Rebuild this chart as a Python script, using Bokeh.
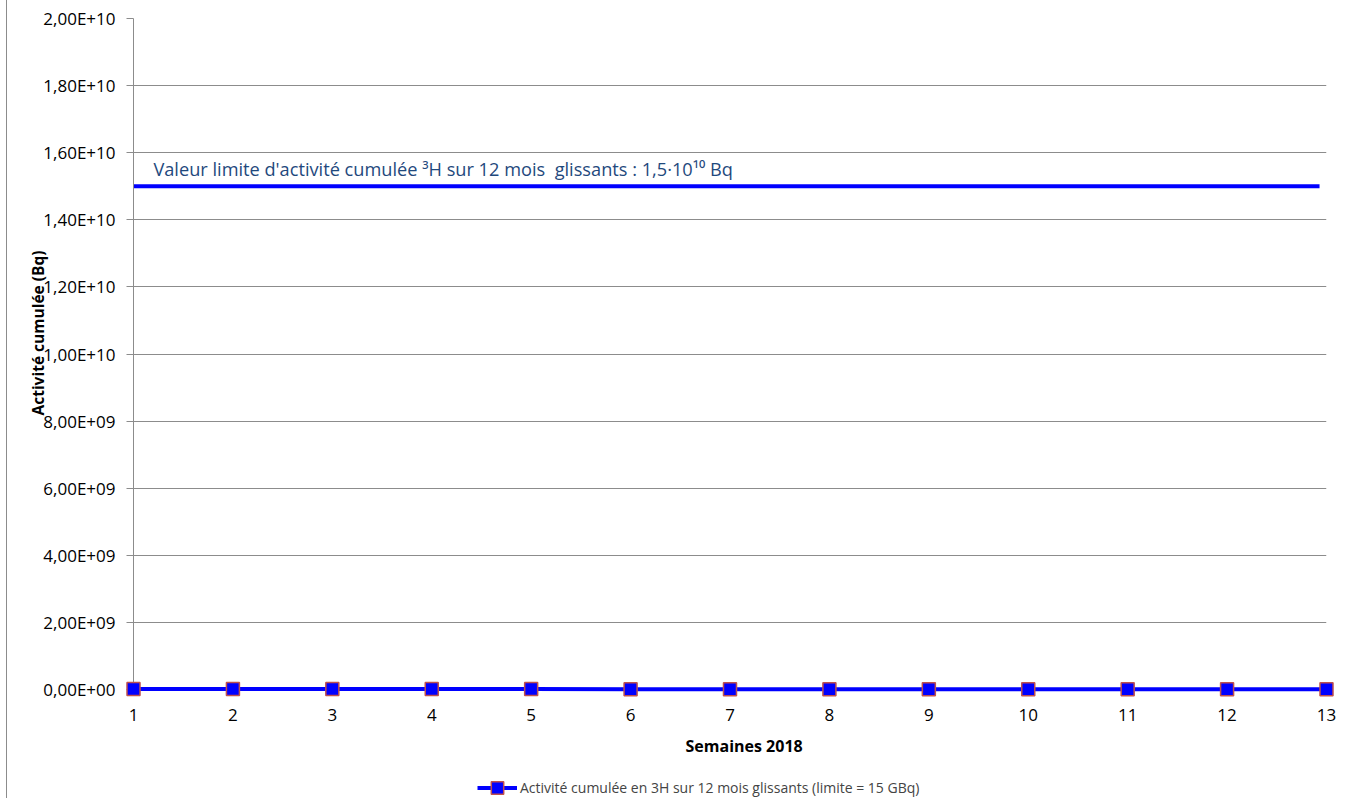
from bokeh.plotting import figure
from bokeh.models import (FixedTicker, CustomJSTickFormatter, Label, Legend, LegendItem,
                          ColumnDataSource, Range1d, Title)
from bokeh.layouts import column
from bokeh.embed import file_html
from bokeh.resources import INLINE

# ---- data ----
weeks = [1, 2, 3, 4, 5, 6, 7, 8, 9, 10, 11, 12, 13]
activity = [1.2e7, 1.2e7, 1.2e7, 1.2e7, 1.2e7, 1.1e7, 1.1e7, 1.1e7, 1.1e7, 1.0e7, 1.0e7, 0.9e7, 0.9e7]
limit_value = 1.5e10
y_ticks = [0, 2e9, 4e9, 6e9, 8e9, 1e10, 1.2e10, 1.4e10, 1.6e10, 1.8e10, 2e10]
series_name = "Activité cumulée en 3H sur 12 mois glissants (limite = 15 GBq)"
limit_text = "Valeur limite d'activité cumulée \u00b3H sur 12 mois\u00a0 glissants : 1,5\u00b710\u00b9\u2070 Bq"
x_title = "Semaines 2018"
y_title = "Activité cumulée (Bq)"

FONT = "Open Sans"
GRID = "#8c8c8c"
BLUE = "#0000ff"

W = 1344
p = figure(width=W, height=766, output_backend="svg", toolbar_location=None,
           x_range=Range1d(1, 13), y_range=Range1d(0, 2e10),
           min_border_left=126, min_border_right=25, min_border_top=18, min_border_bottom=77)
p.outline_line_color = None
p.background_fill_color = "white"
p.border_fill_color = "white"

# grid
p.xgrid.visible = False
p.ygrid.grid_line_color = GRID
p.ygrid.grid_line_width = 1

# y axis
p.yaxis.ticker = FixedTicker(ticks=y_ticks)
p.yaxis.formatter = CustomJSTickFormatter(code="""
    if (Math.abs(tick) < 1e-6) return "0,00E+00";
    let e = Math.floor(Math.log10(Math.abs(tick)) + 1e-9);
    let m = tick / Math.pow(10, e);
    let s = m.toFixed(2).replace(".", ",");
    let es = (e < 0 ? "-" : "+") + (Math.abs(e) < 10 ? "0" : "") + Math.abs(e);
    return s + "E" + es;
""")
p.yaxis.axis_line_color = GRID
p.yaxis.major_tick_line_color = GRID
p.yaxis.major_tick_out = 7
p.yaxis.major_tick_in = 0
p.yaxis.minor_tick_line_color = None
p.yaxis.major_label_text_font = FONT
p.yaxis.major_label_text_font_size = "17px"
p.yaxis.major_label_text_color = "#000000"
p.yaxis.major_label_standoff = 11

# x axis
p.xaxis.ticker = FixedTicker(ticks=weeks)
p.xaxis.axis_line_color = GRID
p.xaxis.major_tick_line_color = None
p.xaxis.minor_tick_line_color = None
p.xaxis.major_label_text_font = FONT
p.xaxis.major_label_text_font_size = "17px"
p.xaxis.major_label_text_color = "#000000"
p.xaxis.major_label_standoff = 13

# axis titles
p.add_layout(Title(text=x_title, align="left", offset=552, standoff=19,
                   text_font=FONT, text_font_size="16px", text_font_style="bold",
                   text_color="#000000"), "below")
p.add_layout(Title(text=y_title, align="left", offset=274, standoff=-17,
                   text_font=FONT, text_font_size="15.5px", text_font_style="bold",
                   text_color="#000000"), "left")

# limit line and text
p.segment(x0=[weeks[0]], y0=[limit_value], x1=[12.93], y1=[limit_value],
          line_color=BLUE, line_width=4)
p.add_layout(Label(x=1.2, y=limit_value, y_offset=5, text=limit_text,
                   text_font=FONT, text_font_size="18.2px", text_color="#1f497d",
                   text_baseline="bottom"))

# series
src = ColumnDataSource(dict(x=weeks, y=activity))
ln = p.line("x", "y", source=src, line_color=BLUE, line_width=4)
sc = p.scatter("x", "y", source=src, marker="square", size=13, fill_color=BLUE,
               line_color="#c0504d", line_width=1.5)
ln.level = "overlay"
sc.level = "overlay"

# legend strip below the chart
lp = figure(width=W, height=32, output_backend="svg", toolbar_location=None,
            x_range=Range1d(0, 1), y_range=Range1d(0, 1),
            x_axis_location=None, y_axis_location=None,
            min_border_left=0, min_border_right=0, min_border_top=0, min_border_bottom=0)
lp.outline_line_color = None
lp.xgrid.visible = False
lp.ygrid.visible = False
lsrc = ColumnDataSource(dict(x=[-5, -4], y=[-5, -5]))
lln = lp.line("x", "y", source=lsrc, line_color=BLUE, line_width=4)
lsc = lp.scatter("x", "y", source=lsrc, marker="square", size=11, fill_color=BLUE,
                 line_color="#c0504d", line_width=1.5)
legend = Legend(items=[LegendItem(label=series_name, renderers=[lln, lsc])],
                location=(344, -5), orientation="horizontal",
                label_text_font=FONT, label_text_font_size="14px",
                glyph_width=40, glyph_height=31, label_height=31, padding=0, spacing=0,
                label_standoff=3, border_line_color=None, background_fill_alpha=0,
                margin=0)
lp.add_layout(legend, "center")

layout = column(p, lp, spacing=0)
layout.styles = {"margin-left": "6px", "border-left": "1px solid #8c8c8c"}

open("out.html", "w").write(file_html(layout, INLINE))
